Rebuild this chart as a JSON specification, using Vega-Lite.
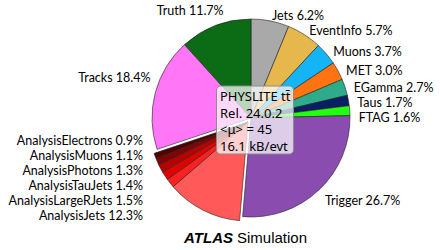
{
  "$schema": "https://vega.github.io/schema/vega-lite/v6.json",
  "width": 378,
  "height": 236,
  "autosize": {"type": "none"},
  "padding": {"left": 62, "top": 0, "right": 0, "bottom": 14},
  "background": "white",
  "config": {"view": {"stroke": null}, "text": {"font": "Lato", "fontSize": 12.5, "color": "black"}},
  "data": {
    "values": [
      {"i": 1, "name": "Jets", "pct": 6.2, "label": "Jets 6.2%"},
      {"i": 2, "name": "EventInfo", "pct": 5.7, "label": "EventInfo 5.7%"},
      {"i": 3, "name": "Muons", "pct": 3.7, "label": "Muons 3.7%"},
      {"i": 4, "name": "MET", "pct": 3.0, "label": "MET 3.0%"},
      {"i": 5, "name": "EGamma", "pct": 2.7, "label": "EGamma 2.7%"},
      {"i": 6, "name": "Taus", "pct": 1.7, "label": "Taus 1.7%"},
      {"i": 7, "name": "FTAG", "pct": 1.6, "label": "FTAG 1.6%"},
      {"i": 8, "name": "Trigger", "pct": 26.7, "label": "Trigger 26.7%"},
      {"i": 9, "name": "AnalysisJets", "pct": 12.3, "label": "AnalysisJets 12.3%"},
      {"i": 10, "name": "AnalysisLargeRJets", "pct": 1.5, "label": "AnalysisLargeRJets 1.5%"},
      {"i": 11, "name": "AnalysisTauJets", "pct": 1.4, "label": "AnalysisTauJets 1.4%"},
      {"i": 12, "name": "AnalysisPhotons", "pct": 1.3, "label": "AnalysisPhotons 1.3%"},
      {"i": 13, "name": "AnalysisMuons", "pct": 1.1, "label": "AnalysisMuons 1.1%"},
      {"i": 14, "name": "AnalysisElectrons", "pct": 0.9, "label": "AnalysisElectrons 0.9%"},
      {"i": 15, "name": "Tracks", "pct": 18.4, "label": "Tracks 18.4%"},
      {"i": 16, "name": "Truth", "pct": 11.7, "label": "Truth 11.7%"}
    ]
  },
  "layer": [
    {
      "mark": {"type": "arc", "outerRadius": 99, "stroke": "#222222", "strokeWidth": 0.6},
      "encoding": {
        "theta": {"field": "pct", "type": "quantitative", "stack": true},
        "order": {"field": "i", "type": "quantitative"},
        "color": {
          "field": "name", "type": "nominal", "legend": null,
          "scale": {
            "domain": ["Jets", "EventInfo", "Muons", "MET", "EGamma", "Taus", "FTAG", "Trigger", "AnalysisJets", "AnalysisLargeRJets", "AnalysisTauJets", "AnalysisPhotons", "AnalysisMuons", "AnalysisElectrons", "Tracks", "Truth"],
            "range": ["#a9a9a9", "#e5b74c", "#14b4f6", "#ff7410", "#2dab8a", "#091e63", "#22ff10", "#8a4caf", "#ff5959", "#ff2020", "#e00000", "#b80000", "#850000", "#500000", "#ff77f7", "#0b6c15"]
          }
        },
        "opacity": {
          "condition": {"test": "indexof(['AnalysisJets','AnalysisLargeRJets','AnalysisTauJets','AnalysisPhotons','AnalysisMuons','AnalysisElectrons'], datum.name) >= 0", "value": 0},
          "value": 1
        }
      }
    },
    {
      "mark": {"type": "arc", "outerRadius": 99, "stroke": "#222222", "strokeWidth": 0.6, "xOffset": -3, "yOffset": 4},
      "encoding": {
        "theta": {"field": "pct", "type": "quantitative", "stack": true},
        "order": {"field": "i", "type": "quantitative"},
        "color": {"field": "name", "type": "nominal", "legend": null},
        "opacity": {
          "condition": {"test": "indexof(['AnalysisJets','AnalysisLargeRJets','AnalysisTauJets','AnalysisPhotons','AnalysisMuons','AnalysisElectrons'], datum.name) >= 0", "value": 1},
          "value": 0
        }
      }
    },
    {
      "mark": {"type": "text", "radius": 108, "align": "left", "baseline": "middle", "dy": 4},
      "encoding": {
        "theta": {"field": "pct", "type": "quantitative", "stack": true},
        "order": {"field": "i", "type": "quantitative"},
        "text": {
          "condition": {"test": "indexof(['Jets','EventInfo','Muons','MET','EGamma','Taus','Trigger'], datum.name) >= 0", "field": "label"},
          "value": ""
        }
      }
    },
    {
      "mark": {"type": "text", "radius": 108, "align": "left", "baseline": "middle", "dy": 8},
      "encoding": {
        "theta": {"field": "pct", "type": "quantitative", "stack": true},
        "order": {"field": "i", "type": "quantitative"},
        "text": {"condition": {"test": "datum.name === 'FTAG'", "field": "label"}, "value": ""}
      }
    },
    {
      "mark": {"type": "text", "radius": 108, "align": "center", "baseline": "middle", "dx": -22, "dy": -6},
      "encoding": {
        "theta": {"field": "pct", "type": "quantitative", "stack": true},
        "order": {"field": "i", "type": "quantitative"},
        "text": {"condition": {"test": "datum.name === 'Truth'", "field": "label"}, "value": ""}
      }
    },
    {
      "mark": {"type": "text", "radius": 108, "align": "right", "baseline": "middle", "dx": 4, "dy": -13},
      "encoding": {
        "theta": {"field": "pct", "type": "quantitative", "stack": true},
        "order": {"field": "i", "type": "quantitative"},
        "text": {"condition": {"test": "datum.name === 'Tracks'", "field": "label"}, "value": ""}
      }
    },
    {
      "transform": [{"filter": "indexof(['AnalysisJets','AnalysisLargeRJets','AnalysisTauJets','AnalysisPhotons','AnalysisMuons','AnalysisElectrons'], datum.name) >= 0"}],
      "mark": {"type": "text", "align": "right", "baseline": "middle", "dx": -108},
      "encoding": {
        "y": {
          "field": "name", "type": "ordinal", "axis": null,
          "sort": ["AnalysisElectrons", "AnalysisMuons", "AnalysisPhotons", "AnalysisTauJets", "AnalysisLargeRJets", "AnalysisJets"],
          "scale": {"type": "point", "range": [141, 216], "padding": 0}
        },
        "text": {"field": "label"}
      }
    },
    {
      "data": {"values": [{"box": "info"}]},
      "mark": {
        "type": "point",
        "shape": "M-0.896,-0.883 L0.896,-0.883 C0.953,-0.883 1,-0.836 1,-0.779 L1,0.779 C1,0.836 0.953,0.883 0.896,0.883 L-0.896,0.883 C-0.953,0.883 -1,0.836 -1,0.779 L-1,-0.779 C-1,-0.836 -0.953,-0.883 -0.896,-0.883 Z",
        "size": 5929, "filled": true, "fill": "white", "fillOpacity": 0.72, "opacity": 1,
        "stroke": "#8c8c8c", "strokeWidth": 1, "strokeJoin": "round", "xOffset": 4, "yOffset": 2
      },
      "encoding": {}
    },
    {
      "data": {"values": [{"box": "info"}]},
      "mark": {
        "type": "text", "text": ["PHYSLITE tt\u0304", "Rel. 24.0.2", "<\u03bc> = 45", "16.1 kB/evt"],
        "font": "Noto Sans", "align": "left", "baseline": "middle", "fontSize": 13, "lineHeight": 16.5, "dx": -31, "dy": -21
      },
      "encoding": {}
    },
    {
      "data": {"values": [{"t": "ATLAS"}]},
      "mark": {"type": "text", "text": "ATLAS", "font": "Liberation Sans", "fontSize": 15, "fontWeight": "bold", "fontStyle": "italic", "align": "right", "baseline": "middle", "dx": -18, "dy": 120},
      "encoding": {}
    },
    {
      "data": {"values": [{"t": "Simulation"}]},
      "mark": {"type": "text", "text": "Simulation", "font": "Liberation Sans", "fontSize": 15, "align": "left", "baseline": "middle", "dx": -14, "dy": 120},
      "encoding": {}
    }
  ]
}
